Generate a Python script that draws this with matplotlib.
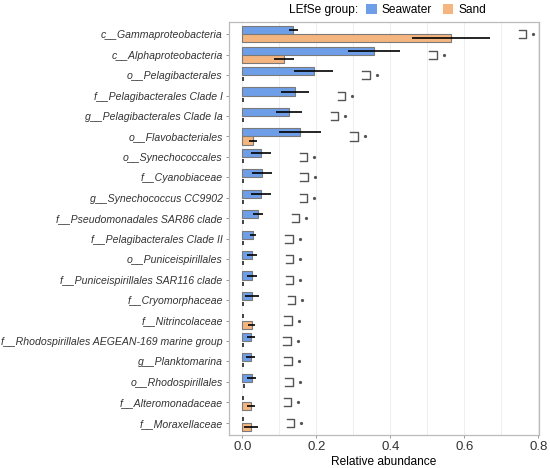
import numpy as np
import matplotlib
matplotlib.use('Agg')
import matplotlib.pyplot as plt
from matplotlib.patches import Patch

plt.rcParams['font.family'] = ['Liberation Sans', 'DejaVu Sans']

# taxa, top to bottom
taxa = ["c__Gammaproteobacteria", "c__Alphaproteobacteria", "o__Pelagibacterales",
        "f__Pelagibacterales Clade I", "g__Pelagibacterales Clade Ia", "o__Flavobacteriales",
        "o__Synechococcales", "f__Cyanobiaceae", "g__Synechococcus CC9902",
        "f__Pseudomonadales SAR86 clade", "f__Pelagibacterales Clade II",
        "o__Puniceispirillales", "f__Puniceispirillales SAR116 clade",
        "f__Cryomorphaceae", "f__Nitrincolaceae",
        "f__Rhodospirillales AEGEAN-169 marine group", "g__Planktomarina",
        "o__Rhodospirillales", "f__Alteromonadaceae", "f__Moraxellaceae"]

seawater_mean = [0.138, 0.357, 0.193, 0.142, 0.126, 0.157, 0.051, 0.052, 0.050, 0.042,
                 0.029, 0.027, 0.027, 0.026, 0.001, 0.023, 0.023, 0.026, 0.003, 0.001]
seawater_sd = [0.012, 0.070, 0.053, 0.038, 0.035, 0.057, 0.027, 0.027, 0.027, 0.014,
               0.009, 0.013, 0.013, 0.019, 0.001, 0.010, 0.012, 0.012, 0.001, 0.001]
sand_mean = [0.564, 0.113, 0.001, 0.001, 0.001, 0.029, 0.001, 0.001, 0.001, 0.001,
             0.001, 0.001, 0.001, 0.001, 0.025, 0.001, 0.001, 0.004, 0.023, 0.023]
sand_sd = [0.105, 0.027, 0.001, 0.001, 0.001, 0.010, 0.001, 0.001, 0.001, 0.001,
           0.001, 0.001, 0.001, 0.001, 0.010, 0.001, 0.001, 0.001, 0.011, 0.019]

c_sea = '#6f9ee8'
c_sand = '#f5b57f'

fig = plt.figure(figsize=(5.5, 4.68), dpi=100)
ax = fig.add_axes([229/550, 1-435/468, (539-229)/550, (435-22)/468])

n = len(taxa)
y = np.arange(n)[::-1]
sw = np.array(seawater_mean)
sd = np.array(sand_mean)
sw_e = np.array(seawater_sd)
sd_e = np.array(sand_sd)

for vals, errs, yy, col in [(sw, sw_e, y + 0.2, c_sea), (sd, sd_e, y - 0.2, c_sand)]:
    big = vals >= 0.005
    ax.barh(yy[big], vals[big], height=0.4, color=col, edgecolor='#7a7a7a', linewidth=0.8, zorder=2)
    ax.errorbar(vals[big], yy[big], xerr=errs[big], fmt='none', ecolor='black',
                elinewidth=1.2, capsize=0, zorder=3)
    # near-zero groups only leave a short dark tick at the origin
    ax.plot(vals[~big], yy[~big], ls='none', marker='|', ms=3.5, mew=1.2, color='#222222', zorder=3)

# significance brackets
top = np.maximum(sw + sw_e, sd + sd_e) + 0.098
for yi, xr in zip(y, top):
    ax.plot([xr - 0.02, xr, xr, xr - 0.02], [yi + 0.2, yi + 0.2, yi - 0.2, yi - 0.2],
            color='#555555', lw=1.0, zorder=3)
    ax.plot(xr + 0.019, yi, marker='o', ms=1.3, color='#555555', zorder=3)

ax.set_xlim(-0.036, 0.802)
ax.set_ylim(-0.6, n - 0.4)
ax.set_yticks(y)
ax.set_yticklabels(taxa, fontsize=7.6, style='italic', color='#333333')
ax.set_xticks([0.0, 0.2, 0.4, 0.6, 0.8])
ax.set_xticklabels(['0.0', '0.2', '0.4', '0.6', '0.8'], fontsize=9.5, color='#333333')
ax.set_xticks(np.arange(0.1, 0.8, 0.2), minor=True)
ax.tick_params(axis='both', which='major', length=2.5, width=0.6, color='#888888', pad=2)
ax.tick_params(axis='x', which='minor', length=0)
ax.grid(True, axis='x', which='both', color='#ebebeb', lw=0.6, zorder=0)
ax.set_axisbelow(True)
for s in ax.spines.values():
    s.set_color('#bbbbbb')
    s.set_linewidth(0.9)
ax.set_xlabel('Relative abundance', fontsize=8.6, labelpad=2)

fig.text(289/550, 1-10/468, 'LEfSe group:', fontsize=8.6, va='center', ha='left')
handles = [Patch(facecolor=c_sea, edgecolor='none'), Patch(facecolor=c_sand, edgecolor='none')]
fig.legend(handles, ['Seawater', 'Sand'], loc='center left', bbox_to_anchor=(366/550, 1-10/468),
           ncol=2, frameon=False, fontsize=8.6, handlelength=0.9, handleheight=0.9,
           handletextpad=0.4, columnspacing=0.9, borderaxespad=0, borderpad=0)

plt.savefig('out.png', dpi=100)
